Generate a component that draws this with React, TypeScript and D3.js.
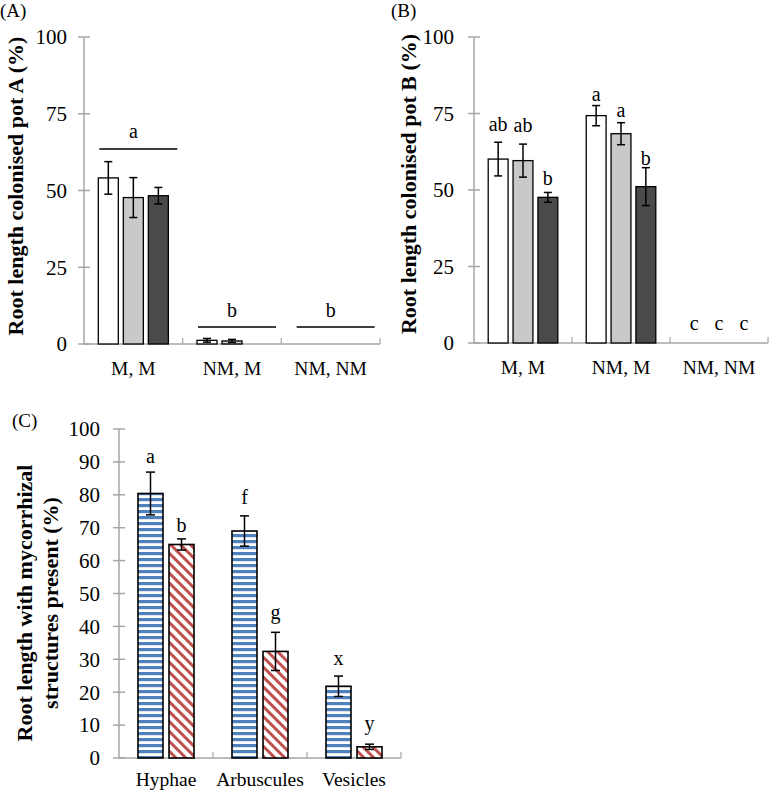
import React from "react";
import * as d3 from "d3";

// ---------- data ----------
const categoriesAB = ["M, M", "NM, M", "NM, NM"];
const ticksAB = [0, 25, 50, 75, 100];

const potAWhite = [54.1, 1.2, 0];
const potAGray = [47.7, 1.0, 0];
const potADark = [48.3, 0, 0];
const potAWhiteSE = [5.3, 0.6, 0];
const potAGraySE = [6.5, 0.5, 0];
const potADarkSE = [2.7, 0, 0];
const potASigLetters = ["a", "b", "b"];
const potASigLineValues = [63.5, 5.5, 5.5];
const potASigTextValues = [67.1, 8.8, 8.8];

const potBWhite = [60.1, 74.3, 0];
const potBGray = [59.6, 68.4, 0];
const potBDark = [47.6, 51.1, 0];
const potBWhiteSE = [5.5, 3.3, 0];
const potBGraySE = [5.4, 3.6, 0];
const potBDarkSE = [1.6, 6.2, 0];
const potBWhiteLetters = ["ab", "a", "c"];
const potBGrayLetters = ["ab", "a", "c"];
const potBDarkLetters = ["b", "b", "c"];
const potBWhiteLetterValues = [69.3, 79.2, 4.4];
const potBGrayLetterValues = [68.8, 74.0, 4.4];
const potBDarkLetterValues = [51.6, 58.2, 4.4];

const categoriesC = ["Hyphae", "Arbuscules", "Vesicles"];
const ticksC = [0, 10, 20, 30, 40, 50, 60, 70, 80, 90, 100];
const blueValues = [80.4, 69.0, 21.8];
const blueSE = [6.5, 4.6, 3.1];
const redValues = [64.9, 32.4, 3.4];
const redSE = [1.7, 5.8, 0.8];
const blueLetters = ["a", "f", "x"];
const redLetters = ["b", "g", "y"];
const blueLetterValues = [89.8, 77.2, 28.4];
const redLetterValues = [68.7, 42.1, 8.4];

// ---------- styles ----------
const FONT = "'Liberation Serif', 'Times New Roman', serif";
const AXIS = "#a6a6a6";
const BAR_FILLS = ["#ffffff", "#c8c9cb", "#4a4a4a"];

type Series = { values: number[]; se: number[]; fill: string; letters?: string[]; letterValues?: number[] };

function Panel(props: {
  x0: number;
  x1: number;
  yTop: number;
  yBottom: number;
  categories: string[];
  ticks: number[];
  series: Series[];
  groupFrac: number;
  padInner: number;
  tickLabelGap: number;
  catLabelY: number;
  capW: number;
  barStroke: number;
  sigLines?: { letters: string[]; lineValues: number[]; textValues: number[] };
}) {
  const { x0, x1, yTop, yBottom, categories, ticks, series, groupFrac, padInner } = props;
  const y = d3.scaleLinear().domain([0, 100]).range([yBottom, yTop]);
  const x = d3.scaleBand<string>().domain(categories).range([x0, x1]).paddingInner(0).paddingOuter(0);
  const bw = x.bandwidth();
  const gw = bw * groupFrac;
  const inner = d3
    .scaleBand<number>()
    .domain(series.map((_, i) => i))
    .range([(bw - gw) / 2, (bw + gw) / 2])
    .paddingInner(padInner)
    .paddingOuter(0);
  const barW = inner.bandwidth();
  return (
    <g>
      <line x1={x0} x2={x0} y1={y(100)} y2={y(0)} stroke={AXIS} strokeWidth={1.5} />
      {ticks.map((t) => (
        <g key={t}>
          <line x1={x0 - 6} x2={x0 + 6} y1={y(t)} y2={y(t)} stroke={AXIS} strokeWidth={1.5} />
          <text
            x={x0 - props.tickLabelGap}
            y={y(t)}
            dy="0.35em"
            textAnchor="end"
            fontFamily={FONT}
            fontSize={21}
            fill="#000"
          >
            {t}
          </text>
        </g>
      ))}
      <line x1={x0} x2={x1} y1={y(0)} y2={y(0)} stroke={AXIS} strokeWidth={1.5} />
      {categories.map((c, i) => (
        <line
          key={"xt" + i}
          x1={(x(c) as number) + bw}
          x2={(x(c) as number) + bw}
          y1={y(0)}
          y2={y(0) - 6}
          stroke={AXIS}
          strokeWidth={1.2}
        />
      ))}
      {categories.map((c) => (
        <text
          key={"xl" + c}
          x={(x(c) as number) + bw / 2}
          y={props.catLabelY}
          textAnchor="middle"
          fontFamily={FONT}
          fontSize={19.5}
        >
          {c}
        </text>
      ))}
      {series.map((s, si) =>
        categories.map((c, ci) => {
          const v = s.values[ci];
          if (v <= 0) return null;
          const bx = (x(c) as number) + (inner(si) as number);
          return (
            <rect
              key={`b${si}-${ci}`}
              x={bx}
              y={y(v)}
              width={barW}
              height={y(0) - y(v)}
              fill={s.fill}
              stroke="#000"
              strokeWidth={props.barStroke}
            />
          );
        })
      )}
      {series.map((s, si) =>
        categories.map((c, ci) => {
          const v = s.values[ci];
          const e = s.se[ci];
          if (v <= 0 || e <= 0) return null;
          const cx = (x(c) as number) + (inner(si) as number) + barW / 2;
          const hw = props.capW / 2;
          return (
            <g key={`e${si}-${ci}`} stroke="#000" strokeWidth={1.5}>
              <line x1={cx} x2={cx} y1={y(v + e)} y2={y(v - e)} />
              <line x1={cx - hw} x2={cx + hw} y1={y(v + e)} y2={y(v + e)} />
              <line x1={cx - hw} x2={cx + hw} y1={y(v - e)} y2={y(v - e)} />
            </g>
          );
        })
      )}
      {series.map((s, si) =>
        s.letters
          ? categories.map((c, ci) => {
              const cx = (x(c) as number) + (inner(si) as number) + barW / 2;
              return (
                <text
                  key={`l${si}-${ci}`}
                  x={cx}
                  y={y((s.letterValues as number[])[ci])}
                  textAnchor="middle"
                  fontFamily={FONT}
                  fontSize={20}
                >
                  {(s.letters as string[])[ci]}
                </text>
              );
            })
          : null
      )}
      {props.sigLines
        ? categories.map((c, ci) => {
            const sl = props.sigLines!;
            const cx = (x(c) as number) + bw / 2;
            return (
              <g key={"sl" + ci}>
                <line
                  x1={cx + 5 - 39}
                  x2={cx + 5 + 39}
                  y1={y(sl.lineValues[ci])}
                  y2={y(sl.lineValues[ci])}
                  stroke="#000"
                  strokeWidth={1.5}
                />
                <text x={cx} y={y(sl.textValues[ci])} textAnchor="middle" fontFamily={FONT} fontSize={20}>
                  {sl.letters[ci]}
                </text>
              </g>
            );
          })
        : null}
    </g>
  );
}

export default function App() {
  const seriesA: Series[] = [
    { values: potAWhite, se: potAWhiteSE, fill: BAR_FILLS[0] },
    { values: potAGray, se: potAGraySE, fill: BAR_FILLS[1] },
    { values: potADark, se: potADarkSE, fill: BAR_FILLS[2] },
  ];
  const seriesB: Series[] = [
    { values: potBWhite, se: potBWhiteSE, fill: BAR_FILLS[0], letters: potBWhiteLetters, letterValues: potBWhiteLetterValues },
    { values: potBGray, se: potBGraySE, fill: BAR_FILLS[1], letters: potBGrayLetters, letterValues: potBGrayLetterValues },
    { values: potBDark, se: potBDarkSE, fill: BAR_FILLS[2], letters: potBDarkLetters, letterValues: potBDarkLetterValues },
  ];
  const seriesC: Series[] = [
    { values: blueValues, se: blueSE, fill: "url(#blueStripes)", letters: blueLetters, letterValues: blueLetterValues },
    { values: redValues, se: redSE, fill: "url(#redDiag)", letters: redLetters, letterValues: redLetterValues },
  ];

  const titleSize = 22;

  return (
    <svg
      width={771}
      height={791}
      viewBox="0 0 771 791"
      style={{ position: "absolute", left: 0, top: 0, background: "#fff" }}
    >
      <defs>
        <pattern id="blueStripes" patternUnits="userSpaceOnUse" width={6} height={6}>
          <rect x={0} y={0} width={6} height={6} fill="#ffffff" />
          <rect x={0} y={0} width={6} height={3.2} fill="#4f81bd" />
        </pattern>
        <pattern id="redDiag" patternUnits="userSpaceOnUse" width={7} height={7} patternTransform="rotate(-45)">
          <rect x={0} y={0} width={7} height={7} fill="#ffffff" />
          <rect x={0} y={0} width={3} height={7} fill="#c0504d" />
        </pattern>
      </defs>
      <rect x={0} y={0} width={771} height={791} fill="#fff" />

      {/* Panel A */}
      <text x={0} y={17} fontFamily={FONT} fontSize={19}>(A)</text>
      <text
        transform="translate(15,186) rotate(-90)"
        textAnchor="middle"
        dominantBaseline="central"
        fontFamily={FONT}
        fontSize={titleSize}
        fontWeight="bold"
      >
        Root length colonised pot A (%)
      </text>
      <Panel
        x0={84}
        x1={380}
        yTop={37}
        yBottom={344}
        categories={categoriesAB}
        ticks={ticksAB}
        series={seriesA}
        groupFrac={0.71}
        padInner={0.2}
        tickLabelGap={17}
        catLabelY={375}
        capW={8}
        barStroke={1.3}
        sigLines={{ letters: potASigLetters, lineValues: potASigLineValues, textValues: potASigTextValues }}
      />

      {/* Panel B */}
      <text x={391} y={17} fontFamily={FONT} fontSize={19}>(B)</text>
      <text
        transform="translate(408,184) rotate(-90)"
        textAnchor="middle"
        dominantBaseline="central"
        fontFamily={FONT}
        fontSize={titleSize}
        fontWeight="bold"
      >
        Root length colonised pot B (%)
      </text>
      <Panel
        x0={474}
        x1={768}
        yTop={37}
        yBottom={343}
        categories={categoriesAB}
        ticks={ticksAB}
        series={seriesB}
        groupFrac={0.71}
        padInner={0.2}
        tickLabelGap={20}
        catLabelY={374}
        capW={8}
        barStroke={1.3}
      />

      {/* Panel C */}
      <text x={12} y={427} fontFamily={FONT} fontSize={19}>(C)</text>
      <text
        transform="translate(24,603) rotate(-90)"
        textAnchor="middle"
        dominantBaseline="central"
        fontFamily={FONT}
        fontSize={titleSize}
        fontWeight="bold"
      >
        Root length with mycorrhizal
      </text>
      <text
        transform="translate(50,603) rotate(-90)"
        textAnchor="middle"
        dominantBaseline="central"
        fontFamily={FONT}
        fontSize={titleSize}
        fontWeight="bold"
      >
        structures present (%)
      </text>
      <Panel
        x0={119}
        x1={401}
        yTop={429}
        yBottom={758}
        categories={categoriesC}
        ticks={ticksC}
        series={seriesC}
        groupFrac={0.596}
        padInner={0.194}
        tickLabelGap={19}
        catLabelY={786}
        capW={9}
        barStroke={1.6}
      />
    </svg>
  );
}
